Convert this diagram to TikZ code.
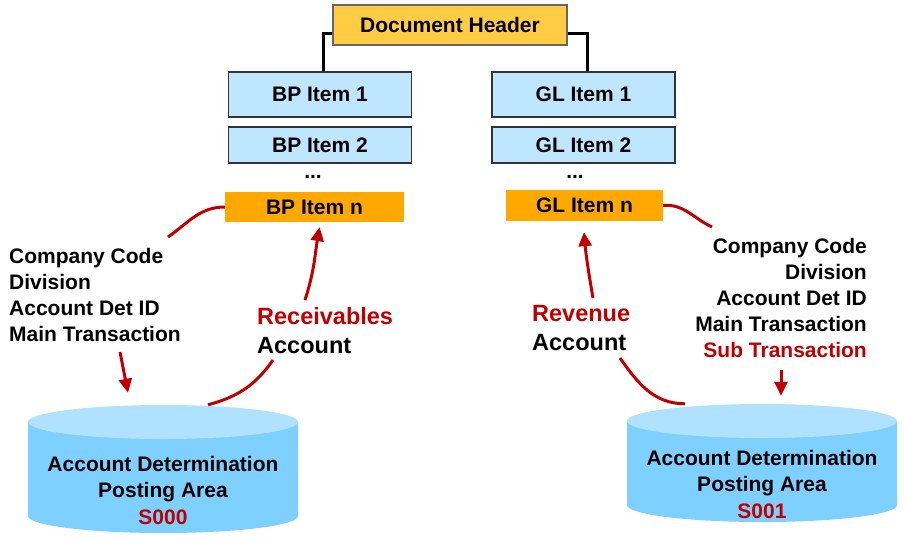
\documentclass[tikz,border=0pt]{standalone}
\usepackage{fontspec}
\setmainfont{Liberation Sans}
\usepackage{tikz}
\usetikzlibrary{arrows.meta,positioning}
\definecolor{HdrYellow}{HTML}{FFCC44}
\definecolor{ItemBlue}{HTML}{BFE6FF}
\definecolor{ItemOrange}{HTML}{FFA800}
\definecolor{EdgeGray}{HTML}{333333}
\definecolor{DbBody}{HTML}{7DD0FF}
\definecolor{DbTop}{HTML}{B0E2FF}
\definecolor{KeyRed}{HTML}{C00000}

\begin{document}
\begin{tikzpicture}[
  x=1pt,y=1pt,
  font=\fontsize{21}{26}\selectfont\bfseries,
  hdr/.style={draw=gray!80!black,line width=1.5pt,fill=HdrYellow,minimum width=234pt,minimum height=40pt},
  item/.style={draw=EdgeGray,line width=1.8pt,fill=ItemBlue,minimum width=183pt,minimum height=45pt},
  lastitem/.style={fill=ItemOrange,minimum width=179pt,minimum height=30pt},
  keys/.style={inner sep=0pt},
  label/.style={inner sep=0pt,align=left,anchor=west,font=\fontsize{23.5}{29}\selectfont\bfseries},
  dbtext/.style={align=center,font=\fontsize{21}{26.5}\selectfont\bfseries},
  db/.style={minimum width=270pt,minimum height=128pt,inner sep=0pt,fill=white,
    path picture={
      \fill[DbBody] ([yshift=-17pt]path picture bounding box.north west) -- ([yshift=17pt]path picture bounding box.south west)
        arc[start angle=180,end angle=360,x radius=135pt,y radius=17pt] -- ([yshift=-17pt]path picture bounding box.north east) -- cycle;
      \fill[DbTop] ([yshift=-17pt]path picture bounding box.north) ellipse[x radius=135pt,y radius=17pt];}},
  tree/.style={line width=3pt},
  arrow/.style={-{Triangle[length=14pt,width=13pt]},line width=3pt,KeyRed},
  curve/.style={line width=3pt,KeyRed}
]
\useasboundingbox (0,0) rectangle (904,-538);

\node[hdr] (hdr) at (450,-25) {Document Header};

% BP items
\node[item] (bp1) at (320,-94.5) {BP Item 1};
\node[item,minimum height=36pt,below=8pt of bp1] (bp2) {BP Item 2};
\node (bpdots) at (313,-177) {...};
\node[lastitem] (bpn) at (314.5,-207) {BP Item n};

% GL items
\node[item] (gl1) at (583.5,-94.5) {GL Item 1};
\node[item,minimum height=36pt,below=8pt of gl1] (gl2) {GL Item 2};
\node (gldots) at (575,-177) {...};
\node[lastitem,minimum width=157pt,minimum height=31pt] (gln) at (584.5,-205.5) {GL Item n};

\draw[tree] ([yshift=-8pt]hdr.west) -| ([xshift=3pt]bp1.north);
\draw[tree] ([yshift=-8pt]hdr.east) -| ([xshift=3.5pt]gl1.north);

% keys and account labels
\node[keys,align=left,anchor=west] (lkeys) at (9,-295) {Company Code\\Division\\Account Det ID\\Main Transaction};
\node[keys,align=right,anchor=east] (rkeys) at (867,-298) {Company Code\\Division\\Account Det ID\\Main Transaction\\\textcolor{KeyRed}{Sub Transaction}};
\node[label] (recv) at (257,-330.5) {\textcolor{KeyRed}{Receivables}\\Account};
\node[label] (rev) at (532,-328.5) {\textcolor{KeyRed}{Revenue}\\Account};

% posting areas
\node[db] (pa0) at (163,-469) {};
\node[dbtext] (pa0txt) at (163,-490) {Account Determination\\Posting Area\\\textcolor{KeyRed}{S000}};
\node[db,minimum height=118pt] (pa1) at (762,-463) {};
\node[dbtext] (pa1txt) at (762,-484) {Account Determination\\Posting Area\\\textcolor{KeyRed}{S001}};

% left flow
\coordinate (lk0) at (168,-237);
\coordinate (lk1) at (120,-352);
\coordinate (ra0) at (273,-360);
\coordinate (ra1) at (305,-300);
\draw[curve] (bpn.west) to[out=180,in=35] (lk0);
\draw[arrow] (lk1) -- ([xshift=-35pt,yshift=12pt]pa0.north);
\draw[curve] ([xshift=45pt]pa0.north) to[out=15,in=235] (ra0);
\draw[arrow,shorten >=5pt] (ra1) to[out=72,in=260] ([xshift=6pt]bpn.south);

% right flow
\coordinate (rk0) at (712,-227);
\coordinate (rk1) at (781,-370);
\coordinate (rv0) at (620,-358);
\coordinate (rv1) at (593,-298);
\draw[curve] (gln.east) to[out=5,in=155] (rk0);
\draw[arrow] (rk1) -- ([xshift=19pt,yshift=8pt]pa1.north);
\draw[curve] ([xshift=-77pt]pa1.north) to[out=180,in=305] (rv0);
\draw[arrow,shorten >=11pt] (rv1) to[out=100,in=275] ([xshift=-1.5pt]gln.south);
\end{tikzpicture}
\end{document}
